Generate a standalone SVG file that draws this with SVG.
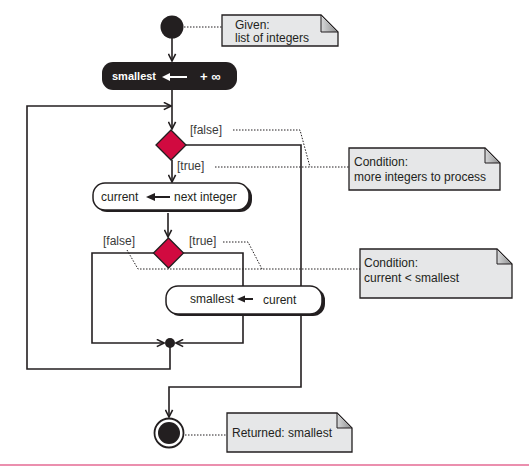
<svg xmlns="http://www.w3.org/2000/svg" width="529" height="468" viewBox="0 0 529 468">
<style>
text{font-family:"Liberation Sans",Arial,sans-serif;font-size:12px;fill:#231f20}
.lbl{fill:#3a3a3a}
.wire{fill:none;stroke:#231f20;stroke-width:1.6}
.dot{fill:none;stroke:#231f20;stroke-width:1;stroke-dasharray:1.5 1.5}
.note{fill:#e6e7e8;stroke:#231f20;stroke-width:1.3}
.fold{fill:url(#fg);stroke:#231f20;stroke-width:1}
.dia{fill:#d10a40;stroke:#231f20;stroke-width:1.3}
.act{fill:#fff;stroke:#231f20;stroke-width:1.5}
</style>
<defs>
<linearGradient id="fg" x1="0" y1="0" x2="1" y2="0">
<stop offset="0" stop-color="#d8d9da"/><stop offset="1" stop-color="#8a8b8c"/>
</linearGradient>
<marker id="ah" viewBox="0 0 10 10" refX="9" refY="5" markerWidth="9" markerHeight="9" markerUnits="userSpaceOnUse" orient="auto">
<path d="M1,1 L9,5 L1,9" fill="none" stroke="#231f20" stroke-width="1.8"/>
</marker>
</defs>

<g id="connectors">
<line class="wire" x1="172" y1="38" x2="172" y2="61" marker-end="url(#ah)"/>
<line class="wire" x1="172" y1="90" x2="172" y2="129" marker-end="url(#ah)"/>
<polyline class="wire" points="170,343 170,369 27,369 27,106 171,106" marker-end="url(#ah)"/>
<polyline class="wire" points="186,145 301,145 301,387 169,387 169,417" marker-end="url(#ah)"/>
<line class="wire" x1="172" y1="160" x2="172" y2="182" marker-end="url(#ah)"/>
<line class="wire" x1="168" y1="213" x2="168" y2="237" marker-end="url(#ah)"/>
<polyline class="wire" points="154,253 92,253 92,343 164,343" marker-end="url(#ah)"/>
<polyline class="wire" points="183,253 243,253 243,286"/>
<polyline class="wire" points="243,316 243,343 176,343" marker-end="url(#ah)"/>
<line class="dot" x1="184" y1="27" x2="222" y2="27"/>
<polyline class="dot" points="233,130 300,130 310,167"/>
<line class="dot" x1="215" y1="167" x2="349" y2="167"/>
<polyline class="dot" points="127,250 138,269 360,269"/>
<polyline class="dot" points="223,242 248,242 262,269"/>
<line class="dot" x1="185" y1="435" x2="227" y2="435"/>
</g>

<g id="start"><circle cx="172" cy="27" r="11.5" fill="#231f20"/></g>

<g id="note-given">
<path class="note" d="M222,15 H321 L338,32 V46 H222 Z"/>
<path class="fold" d="M321,15 V32 H338 Z"/>
<text x="235" y="29">Given:</text>
<text x="235" y="42">list of integers</text>
</g>

<g id="init">
<rect x="102" y="62" width="135" height="28" rx="11" fill="#231f20"/>
<text x="112" y="80" style="fill:#fff;font-weight:bold;font-size:11px">smallest</text>
<line x1="168" y1="77" x2="187" y2="77" stroke="#fff" stroke-width="2"/>
<path d="M162,77 L170,73 L170,81 Z" fill="#fff"/>
<text x="200" y="81" style="fill:#fff;font-weight:bold;font-size:13px">+ ∞</text>
</g>

<g id="decision1">
<path class="dia" d="M171,130 L186,145 L171,160 L156,145 Z"/>
<text class="lbl" x="190" y="134">[false]</text>
<text class="lbl" x="177" y="170">[true]</text>
</g>

<g id="note-more">
<path class="note" d="M349,148 H485 L500,163 V190 H349 Z"/>
<path class="fold" d="M485,148 V163 H500 Z"/>
<text x="354" y="166">Condition:</text>
<text x="354" y="181">more integers to process</text>
</g>

<g id="next">
<rect x="95" y="185" width="157" height="27" rx="12" fill="#231f20"/>
<rect class="act" x="93" y="183" width="156" height="27" rx="12"/>
<text x="101" y="201">current</text>
<line x1="153" y1="197" x2="170" y2="197" stroke="#231f20" stroke-width="2"/>
<path d="M146,197 L155,193 L155,201 Z" fill="#231f20"/>
<text x="174" y="201">next integer</text>
</g>

<g id="decision2">
<path class="dia" d="M168.5,238 L183.5,253 L168.5,268 L153.5,253 Z"/>
<text class="lbl" x="103" y="245">[false]</text>
<text class="lbl" x="189" y="245">[true]</text>
</g>

<g id="note-less">
<path class="note" d="M360,249 H497 L512,264 V298 H360 Z"/>
<path class="fold" d="M497,249 V264 H512 Z"/>
<text x="364" y="267">Condition:</text>
<text x="364" y="282">current &lt; smallest</text>
</g>

<g id="update">
<rect x="168" y="288" width="157" height="28" rx="12" fill="#231f20"/>
<rect class="act" x="166" y="286" width="156" height="28" rx="12"/>
<text x="190" y="303">smallest</text>
<line x1="244" y1="299" x2="253" y2="299" stroke="#231f20" stroke-width="2"/>
<path d="M237,299 L245,295.5 L245,302.5 Z" fill="#231f20"/>
<text x="263" y="304">curent</text>
</g>

<g id="merge"><circle cx="170" cy="343" r="5" fill="#231f20"/></g>

<g id="end">
<circle cx="169" cy="433" r="14.5" fill="#fff" stroke="#231f20" stroke-width="1.8"/>
<circle cx="169" cy="433" r="11" fill="#231f20"/>
</g>

<g id="note-returned">
<path class="note" d="M227,413 H337 L352,428 V452 H227 Z"/>
<path class="fold" d="M337,413 V428 H352 Z"/>
<text x="232" y="437">Returned: smallest</text>
</g>

<line x1="0" y1="465" x2="529" y2="465" stroke="#e46a93" stroke-width="1.5"/>
</svg>
